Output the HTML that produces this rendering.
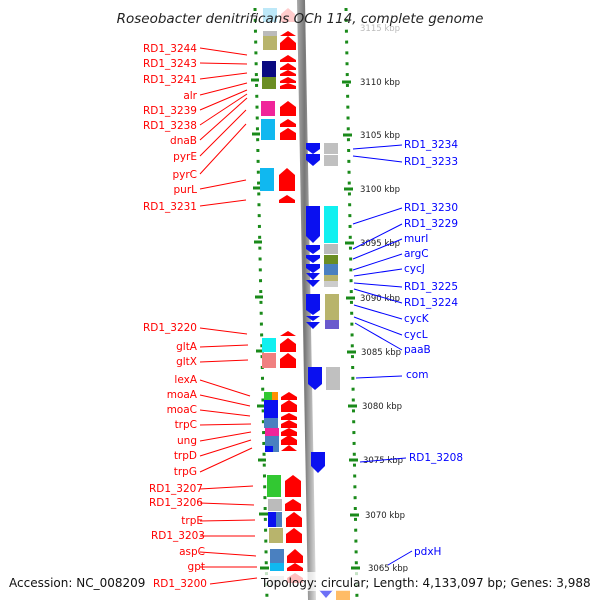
<!DOCTYPE html>
<html><head><meta charset="utf-8"><style>
html,body{margin:0;padding:0;background:#fff;}
svg{display:block;font-family:"DejaVu Sans","Liberation Sans",sans-serif;}
</style></head><body>
<svg width="600" height="600" viewBox="0 0 600 600" xmlns="http://www.w3.org/2000/svg">
<defs>
<linearGradient id="bb" x1="0" x2="1" y1="0" y2="0"><stop offset="0" stop-color="#aaa"/><stop offset="0.4" stop-color="#777"/><stop offset="1" stop-color="#ddd"/></linearGradient>
</defs>
<rect width="600" height="600" fill="#fff"/>
<polygon points="297,0 305,0 316,600 308,600" fill="url(#bb)"/>
<line x1="255" y1="8" x2="267" y2="600" stroke="#1a8a1a" stroke-width="3" stroke-dasharray="3 7.85"/>
<line x1="346" y1="8" x2="357" y2="600" stroke="#1a8a1a" stroke-width="3" stroke-dasharray="3 7.85"/>
<g stroke="#1a8a1a" stroke-width="3">
<line x1="251" y1="80" x2="259" y2="80"/><line x1="252" y1="134" x2="260" y2="134"/><line x1="253" y1="188" x2="261" y2="188"/><line x1="254" y1="242" x2="262" y2="242"/><line x1="255" y1="297" x2="263" y2="297"/><line x1="256" y1="351" x2="264" y2="351"/><line x1="257" y1="406" x2="265" y2="406"/><line x1="258" y1="460" x2="266" y2="460"/><line x1="259" y1="514" x2="268" y2="514"/><line x1="260" y1="568" x2="269" y2="568"/>
<line x1="342" y1="82" x2="351" y2="82"/><line x1="343" y1="135" x2="352" y2="135"/><line x1="344" y1="189" x2="353" y2="189"/><line x1="345" y1="243" x2="354" y2="243"/><line x1="346" y1="298" x2="355" y2="298"/><line x1="347" y1="352" x2="356" y2="352"/><line x1="348" y1="406" x2="357" y2="406"/><line x1="349" y1="460" x2="358" y2="460"/><line x1="350" y1="515" x2="359" y2="515"/><line x1="351" y1="568" x2="360" y2="568"/>
</g>
<g font-size="8.5" fill="#222">
<text x="360" y="31" fill="#bbb">3115 kbp</text><text x="360" y="85">3110 kbp</text><text x="360" y="138">3105 kbp</text><text x="360" y="192">3100 kbp</text><text x="360" y="246">3095 kbp</text><text x="360" y="301">3090 kbp</text><text x="361" y="355">3085 kbp</text><text x="362" y="409">3080 kbp</text><text x="363" y="463">3075 kbp</text><text x="365" y="518">3070 kbp</text><text x="368" y="571">3065 kbp</text>
</g>
<g>
<rect x="263" y="8" width="14" height="14" fill="#bde8f8"/>
<rect x="263" y="31" width="14" height="5" fill="#bbb"/>
<rect x="263" y="36" width="14" height="14" fill="#b8b46c"/>
<rect x="262" y="61" width="14" height="16" fill="#0a0a80"/>
<rect x="262" y="77" width="14" height="12" fill="#6b8e23"/>
<rect x="261" y="101" width="14" height="15" fill="#f0249a"/>
<rect x="261" y="119" width="14" height="11" fill="#10b8f0"/>
<rect x="261" y="130" width="14" height="10" fill="#10b8f0"/>
<rect x="260" y="168" width="14" height="23" fill="#10b8f0"/>
<rect x="262" y="338" width="14" height="14" fill="#10f0f0"/>
<rect x="262" y="353" width="14" height="15" fill="#f08080"/>
<rect x="264" y="392" width="8" height="8" fill="#32c832"/><rect x="272" y="392" width="6" height="8" fill="#ff9000"/>
<rect x="264" y="400" width="14" height="18" fill="#0a10f0"/>
<rect x="264" y="418" width="14" height="10" fill="#4a80c0"/>
<rect x="265" y="428" width="14" height="8" fill="#f0249a"/>
<rect x="265" y="436" width="14" height="10" fill="#4a80c0"/>
<rect x="265" y="446" width="8" height="6" fill="#0a10f0"/><rect x="273" y="446" width="6" height="6" fill="#4a80c0"/>
<rect x="267" y="475" width="14" height="22" fill="#32c832"/>
<rect x="268" y="499" width="14" height="12" fill="#bbb"/>
<rect x="268" y="512" width="8" height="15" fill="#0a10f0"/><rect x="276" y="512" width="6" height="15" fill="#4a80c0"/>
<rect x="269" y="528" width="14" height="15" fill="#b8b46c"/>
<rect x="270" y="549" width="14" height="14" fill="#4a80c0"/>
<rect x="270" y="563" width="14" height="8" fill="#10b8f0"/>
<rect x="270" y="576" width="14" height="9" fill="#ccc"/>
<rect x="324" y="143" width="14" height="11" fill="#c0c0c0"/>
<rect x="324" y="155" width="14" height="11" fill="#c0c0c0"/>
<rect x="324" y="206" width="14" height="37" fill="#10f0f0"/>
<rect x="324" y="244" width="14" height="10" fill="#bbb"/>
<rect x="324" y="255" width="14" height="9" fill="#6b8e23"/>
<rect x="324" y="264" width="14" height="11" fill="#4a80c0"/>
<rect x="324" y="275" width="14" height="6" fill="#b8b46c"/>
<rect x="324" y="281" width="14" height="6" fill="#ccc"/>
<rect x="325" y="294" width="14" height="26" fill="#b8b46c"/>
<rect x="325" y="320" width="14" height="9" fill="#6a5acd"/>
<rect x="326" y="367" width="14" height="23" fill="#c0c0c0"/>
<rect x="336" y="590" width="14" height="10" fill="#ff9000" opacity="0.6"/>
</g>
<g fill="#f00">
<polygon points="288,8 295,14 295,22 281,22 281,14" fill="#fcc"/>
<polygon points="288,31 296,36 280,36"/>
<polygon points="288,36 296,43 296,50 280,50 280,43"/>
<polygon points="288,55 296,60 296,62 280,62 280,60"/>
<polygon points="288,63 296,68 296,70 280,70 280,68"/>
<polygon points="288,70 296,74 296,76 280,76 280,74"/>
<polygon points="288,77 296,81 296,83 280,83 280,81"/>
<polygon points="288,83 296,86 296,89 280,89 280,86"/>
<polygon points="288,101 296,107 296,116 280,116 280,107"/>
<polygon points="288,119 296,124 296,127 280,127 280,124"/>
<polygon points="288,128 296,133 296,140 280,140 280,133"/>
<polygon points="287,168 295,175 295,191 279,191 279,175"/>
<polygon points="287,195 295,200 295,203 279,203 279,200"/>
<polygon points="288,331 296,336 280,336"/>
<polygon points="288,338 296,344 296,352 280,352 280,344"/>
<polygon points="288,353 296,359 296,368 280,368 280,359"/>
<polygon points="289,392 297,397 297,400 281,400 281,397"/>
<polygon points="289,400 297,405 297,412 281,412 281,405"/>
<polygon points="289,413 297,417 297,420 281,420 281,417"/>
<polygon points="289,420 297,424 297,428 281,428 281,424"/>
<polygon points="289,428 297,432 297,436 281,436 281,432"/>
<polygon points="289,435 297,440 297,445 281,445 281,440"/>
<polygon points="289,445 297,451 281,451"/>
<polygon points="293,475 301,481 301,497 285,497 285,481"/>
<polygon points="293,499 301,504 301,511 285,511 285,504"/>
<polygon points="294,512 302,518 302,527 286,527 286,518"/>
<polygon points="294,528 302,534 302,543 286,543 286,534"/>
<polygon points="295,549 303,556 303,563 287,563 287,556"/>
<polygon points="295,563 303,568 303,571 287,571 287,568"/>
<polygon points="295,573 303,578 303,583 287,583 287,578"/>
</g>
<g fill="#0a10f0">
<polygon points="306,143 320,143 320,149 313,154 306,149"/>
<polygon points="306,154 320,154 320,160 313,166 306,160"/>
<polygon points="306,206 320,206 320,236 313,243 306,236"/>
<polygon points="306,245 320,245 320,249 313,254 306,249"/>
<polygon points="306,255 320,255 320,258 313,263 306,258"/>
<polygon points="306,264 320,264 320,268 313,273 306,268"/>
<polygon points="306,273 320,273 313,280"/>
<polygon points="306,280 320,280 313,287"/>
<polygon points="306,294 320,294 320,310 313,315 306,310"/>
<polygon points="306,316 320,316 313,321"/>
<polygon points="306,322 320,322 313,329"/>
<polygon points="308,367 322,367 322,384 315,390 308,384"/>
<polygon points="311,452 325,452 325,466 318,473 311,466"/>
<polygon points="319,590 333,590 326,598" opacity="0.6"/>
</g>
<g stroke="#f00" stroke-width="1">
<line x1="200" y1="48" x2="247" y2="55"/><line x1="200" y1="63" x2="247" y2="64"/><line x1="200" y1="79" x2="247" y2="73"/><line x1="200" y1="95" x2="247" y2="83"/><line x1="200" y1="110" x2="247" y2="90"/><line x1="200" y1="125" x2="247" y2="94"/><line x1="200" y1="140" x2="247" y2="98"/><line x1="200" y1="156" x2="246" y2="110"/><line x1="200" y1="174" x2="246" y2="124"/><line x1="200" y1="189" x2="246" y2="180"/><line x1="200" y1="206" x2="246" y2="200"/>
<line x1="200" y1="328" x2="247" y2="334"/><line x1="200" y1="347" x2="248" y2="345"/><line x1="200" y1="362" x2="248" y2="360"/><line x1="200" y1="380" x2="250" y2="396"/><line x1="200" y1="395" x2="250" y2="406"/><line x1="200" y1="410" x2="250" y2="416"/><line x1="200" y1="425" x2="251" y2="424"/><line x1="200" y1="441" x2="251" y2="432"/><line x1="200" y1="456" x2="251" y2="440"/><line x1="200" y1="472" x2="252" y2="448"/><line x1="200" y1="489" x2="253" y2="486"/><line x1="200" y1="503" x2="254" y2="505"/><line x1="200" y1="521" x2="255" y2="520"/><line x1="200" y1="536" x2="255" y2="536"/><line x1="200" y1="552" x2="256" y2="556"/><line x1="200" y1="567" x2="257" y2="567"/><line x1="210" y1="584" x2="257" y2="578"/>
</g>
<g font-size="10.5" fill="#f00" text-anchor="end">
<text x="197" y="52">RD1_3244</text><text x="197" y="67">RD1_3243</text><text x="197" y="83">RD1_3241</text><text x="197" y="99">alr</text><text x="197" y="114">RD1_3239</text><text x="197" y="129">RD1_3238</text><text x="197" y="144">dnaB</text><text x="197" y="160">pyrE</text><text x="197" y="178">pyrC</text><text x="197" y="193">purL</text><text x="197" y="210">RD1_3231</text>
<text x="197" y="331">RD1_3220</text><text x="197" y="350">gltA</text><text x="197" y="365">gltX</text><text x="197" y="383">lexA</text><text x="197" y="398">moaA</text><text x="197" y="413">moaC</text><text x="197" y="428">trpC</text><text x="197" y="444">ung</text><text x="197" y="459">trpD</text><text x="197" y="475">trpG</text><text x="203" y="492">RD1_3207</text><text x="203" y="506">RD1_3206</text><text x="203" y="524">trpE</text><text x="205" y="539">RD1_3203</text><text x="205" y="555">aspC</text><text x="205" y="570">gpt</text><text x="207" y="587">RD1_3200</text>
</g>
<g stroke="#00f" stroke-width="1">
<line x1="353" y1="149" x2="402" y2="145"/><line x1="353" y1="156" x2="402" y2="162"/><line x1="353" y1="224" x2="402" y2="208"/><line x1="353" y1="249" x2="402" y2="224"/><line x1="353" y1="259" x2="402" y2="239"/><line x1="353" y1="270" x2="402" y2="254"/><line x1="354" y1="276" x2="402" y2="269"/><line x1="354" y1="283" x2="402" y2="287"/><line x1="354" y1="289" x2="402" y2="303"/><line x1="354" y1="305" x2="402" y2="319"/><line x1="354" y1="317" x2="402" y2="335"/><line x1="355" y1="323" x2="402" y2="350"/><line x1="356" y1="378" x2="402" y2="376"/><line x1="360" y1="462" x2="406" y2="458"/><line x1="388" y1="565" x2="412" y2="551"/>
</g>
<g font-size="10.5" fill="#00f">
<text x="404" y="148">RD1_3234</text><text x="404" y="165">RD1_3233</text><text x="404" y="211">RD1_3230</text><text x="404" y="227">RD1_3229</text><text x="404" y="242">murI</text><text x="404" y="257">argC</text><text x="404" y="272">cycJ</text><text x="404" y="290">RD1_3225</text><text x="404" y="306">RD1_3224</text><text x="404" y="322">cycK</text><text x="404" y="338">cycL</text><text x="404" y="353">paaB</text><text x="406" y="378">com</text><text x="409" y="461">RD1_3208</text><text x="414" y="555">pdxH</text>
</g>
<text x="300" y="23" font-size="13.5" font-style="italic" text-anchor="middle" fill="#222">Roseobacter denitrificans OCh 114, complete genome</text>
<rect x="5" y="572" width="145" height="19" fill="#fff" opacity="0.75"/>
<rect x="258" y="572" width="336" height="19" fill="#fff" opacity="0.75"/>
<text x="9" y="587" font-size="12" fill="#111">Accession: NC_008209</text>
<text x="261" y="587" font-size="12" fill="#111">Topology: circular; Length: 4,133,097 bp; Genes: 3,988</text>
</svg>
</body></html>
